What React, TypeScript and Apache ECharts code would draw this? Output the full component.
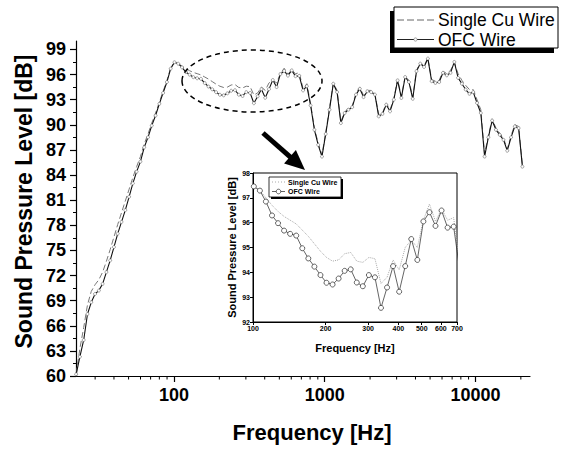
import React, { useEffect, useRef } from "react";
import * as echarts from "echarts";

// 1/12-octave analysis frequencies (Hz)
const freqHz = [
  22.45, 23.78, 25.2, 26.7, 28.28, 29.97, 31.75, 33.64, 35.64, 37.76,
  40.0, 42.38, 44.9, 47.57, 50.4, 53.39, 56.57, 59.93, 63.5, 67.27,
  71.27, 75.51, 80.0, 84.76, 89.8, 95.14, 100.8, 106.8, 113.1, 119.9,
  127.0, 134.5, 142.5, 151.0, 160.0, 169.5, 179.6, 190.3, 201.6, 213.6,
  226.3, 239.7, 254.0, 269.1, 285.1, 302.0, 320.0, 339.0, 359.2, 380.5,
  403.2, 427.1, 452.5, 479.5, 508.0, 538.2, 570.2, 604.1, 640.0, 678.0,
  718.4, 761.1, 806.3, 854.3, 905.1, 958.9, 1016, 1076, 1140, 1208,
  1280, 1356, 1437, 1522, 1613, 1709, 1810, 1918, 2032, 2153,
  2281, 2417, 2560, 2712, 2874, 3044, 3225, 3417, 3620, 3836,
  4064, 4305, 4561, 4833, 5120, 5424, 5747, 6089, 6451, 6834,
  7241, 7671, 8127, 8611, 9123, 9665, 10240, 10849, 11494, 12177,
  12902, 13669, 14482, 15343, 16255, 17222, 18246, 19331, 20480,
];

const singleCuDb = [
  60.3, 63.3, 65.8, 68.5, 70.1, 70.9, 71.5, 72.4, 73.7, 75.1,
  76.6, 78.1, 79.5, 80.9, 82.3, 83.7, 85.0, 86.2, 87.7, 88.9,
  90.2, 91.4, 92.7, 94.0, 95.3, 96.8, 97.46, 97.3, 97.0, 96.7,
  96.45, 96.25, 96.1, 95.95, 95.7, 95.45, 95.15, 94.85, 94.6, 94.45,
  94.5, 94.75, 94.8, 94.45, 94.4, 94.6, 94.55, 93.55, 93.8, 94.5,
  94.1, 95.0, 95.3, 95.0, 96.1, 96.75, 96.05, 96.55, 96.1, 96.2,
  94.3, 94.9, 92.5, 89.6, 87.8, 86.4, 89.1, 92.0, 95.0, 94.1,
  90.4, 91.5, 92.0, 92.2, 93.8, 94.5, 93.5, 94.1, 94.1, 93.7,
  91.2, 91.4, 92.6, 91.8, 93.1, 95.4, 93.4, 95.8, 95.3, 93.3,
  96.5, 97.4, 97.0, 98.0, 95.4, 95.2, 95.3, 96.4, 96.1, 96.5,
  97.4, 96.1, 95.3, 94.7, 94.2, 94.2, 93.0, 91.8, 86.5, 88.7,
  90.7, 89.6, 89.0, 88.4, 87.1, 88.7, 90.0, 89.8, 85.2,
];

const ofcDb = [
  60.2, 62.3, 64.3, 67.4, 68.8, 69.8, 70.2, 71.0, 72.4, 73.8,
  75.4, 77.0, 78.4, 79.8, 81.4, 83.0, 84.4, 85.6, 87.3, 88.5,
  89.9, 91.1, 92.5, 93.8, 95.1, 96.7, 97.46, 97.29, 96.85, 96.29,
  95.98, 95.68, 95.55, 95.48, 94.97, 94.56, 94.23, 93.89, 93.58, 93.51,
  93.75, 94.06, 94.12, 93.59, 93.44, 93.89, 93.8, 92.57, 93.39, 94.25,
  93.22, 94.25, 95.34, 94.5, 96.05, 96.42, 95.87, 96.49, 95.8, 95.84,
  94.1, 94.6, 92.3, 89.4, 87.6, 86.2, 88.9, 91.8, 94.9, 93.9,
  90.2, 91.4, 91.8, 92.1, 93.6, 94.3, 93.3, 94.0, 93.9, 93.6,
  91.0, 91.3, 92.4, 91.6, 93.0, 95.3, 93.2, 95.7, 95.1, 93.1,
  96.4, 97.3, 96.9, 97.9, 95.2, 95.0, 95.1, 96.2, 95.9, 96.2,
  97.5, 95.6, 94.9, 94.2, 93.7, 93.9, 92.6, 91.4, 86.2, 88.5,
  90.5, 89.4, 88.8, 88.2, 86.9, 88.5, 89.8, 89.6, 85.0,
];

const mainYTicks = [60, 63, 66, 69, 72, 75, 78, 81, 84, 87, 90, 93, 96, 99];
const mainXTicks = [100, 1000, 10000];
const mainXMinorTicks = [
  30, 40, 50, 60, 70, 80, 90, 200, 300, 400, 500, 600, 700, 800, 900,
  2000, 3000, 4000, 5000, 6000, 7000, 8000, 9000, 20000,
];
const insetXTicks = [100, 200, 300, 400, 500, 600, 700];
const insetFirst = 26; // index of 100.8 Hz
const insetLast = 60; // index of 718.4 Hz
const seriesNames = ["Single Cu Wire", "OFC Wire"];

const FONT = 'Arial, "Liberation Sans", Helvetica, sans-serif';

export default function App() {
  const ref = useRef<HTMLDivElement>(null);
  useEffect(() => {
    document.body.style.margin = "0";
    const chart = echarts.init(ref.current!, null, { renderer: "svg" });
    const pairs = (ys: number[]) => freqHz.map((f, i) => [f, ys[i]]);
    const insetPairs = (ys: number[]) =>
      freqHz.slice(insetFirst, insetLast + 1).map((f, i) => [f, ys[insetFirst + i]]);

    const option: any = {
      animation: false,
      backgroundColor: "#fff",
      textStyle: { fontFamily: FONT },
      grid: [
        { left: 76, right: 31, top: 41, bottom: 73 },
        {
          left: 253, top: 173, width: 204, height: 149, show: true,
          borderColor: "#000", borderWidth: 1, backgroundColor: "#fff", z: 5,
        },
      ],
      xAxis: [
        {
          type: "log", logBase: 10, gridIndex: 0, min: 22.4, max: 23000,
          name: "Frequency [Hz]", nameLocation: "middle", nameGap: 45,
          nameTextStyle: { fontSize: 22, fontWeight: "bold", color: "#000", fontFamily: FONT, padding: [0, 0, 0, 18] },
          axisLine: { lineStyle: { color: "#000", width: 1.2 } },
          axisTick: { customValues: mainXTicks, length: 6, lineStyle: { color: "#000", width: 1.2 } },
          axisLabel: {
            customValues: mainXTicks, margin: 10, fontSize: 18, fontWeight: "bold", color: "#000",
            fontFamily: FONT, formatter: (v: number) => String(Math.round(v)),
          },
          splitLine: { show: false },
        },
        {
          type: "log", logBase: 10, gridIndex: 1, min: 100, max: 700,
          name: "Frequency [Hz]", nameLocation: "middle", nameGap: 20,
          nameTextStyle: { fontSize: 11, fontWeight: "bold", color: "#000", fontFamily: FONT },
          axisLine: { lineStyle: { color: "#000", width: 1 } },
          axisTick: { customValues: insetXTicks, length: 3, lineStyle: { color: "#000" } },
          axisLabel: {
            customValues: insetXTicks, margin: 3, fontSize: 7, fontWeight: "bold", color: "#000",
            fontFamily: FONT, formatter: (v: number) => String(Math.round(v)),
          },
          splitLine: { show: false },
          z: 6,
        },
      ],
      yAxis: [
        {
          type: "value", gridIndex: 0, min: 60, max: 100, interval: 3,
          name: "Sound Pressure Level [dB]", nameLocation: "middle", nameGap: 38,
          nameTextStyle: { fontSize: 23, fontWeight: "bold", color: "#000", fontFamily: FONT, padding: [0, 0, 0, 14] },
          axisLine: { show: true, lineStyle: { color: "#000", width: 1.2 } },
          axisTick: { customValues: mainYTicks, length: 6, lineStyle: { color: "#000", width: 1.2 } },
          minorTick: { show: true, splitNumber: 2, length: 3, lineStyle: { color: "#000", width: 1 } },
          axisLabel: { customValues: mainYTicks, margin: 10, fontSize: 18, fontWeight: "bold", color: "#000", fontFamily: FONT },
          splitLine: { show: false },
        },
        {
          type: "value", gridIndex: 1, min: 92, max: 98, interval: 1,
          name: "Sound Pressure Level [dB]", nameLocation: "middle", nameGap: 16,
          nameTextStyle: { fontSize: 11, fontWeight: "bold", color: "#000", fontFamily: FONT },
          axisLine: { show: true, lineStyle: { color: "#000", width: 1 } },
          axisTick: { length: 3, lineStyle: { color: "#000" } },
          axisLabel: { margin: 3, fontSize: 7, fontWeight: "bold", color: "#000", fontFamily: FONT },
          splitLine: { show: false },
          z: 6,
        },
      ],
      series: [
        {
          name: seriesNames[0], type: "line", xAxisIndex: 0, yAxisIndex: 0,
          data: pairs(singleCuDb), symbol: "none",
          lineStyle: { color: "#777", width: 1, type: [6, 3] }, itemStyle: { color: "#777" }, z: 2,
        },
        {
          name: seriesNames[1], type: "line", xAxisIndex: 0, yAxisIndex: 0,
          data: pairs(ofcDb), symbol: "circle", symbolSize: 3, showAllSymbol: true,
          lineStyle: { color: "#111", width: 1.1 },
          itemStyle: { color: "#fff", borderColor: "#666", borderWidth: 0.6 }, z: 3,
        },
        {
          name: seriesNames[0], type: "line", xAxisIndex: 1, yAxisIndex: 1,
          data: insetPairs(singleCuDb), symbol: "none", clip: true,
          lineStyle: { color: "#aaa", width: 1, type: "dotted" }, z: 7,
        },
        {
          name: seriesNames[1], type: "line", xAxisIndex: 1, yAxisIndex: 1,
          data: insetPairs(ofcDb), symbol: "circle", symbolSize: 5, showAllSymbol: true, clip: true,
          lineStyle: { color: "#222", width: 0.7 },
          itemStyle: { color: "#fff", borderColor: "#222", borderWidth: 0.7 }, z: 8,
        },
        {
          type: "custom", xAxisIndex: 0, yAxisIndex: 0, silent: true, clip: false, z: 4,
          data: mainXMinorTicks.map((f) => [f, 60]),
          renderItem: (_p: any, api: any) => {
            const pt = api.coord([api.value(0), api.value(1)]);
            return {
              type: "line",
              shape: { x1: pt[0], y1: pt[1], x2: pt[0], y2: pt[1] + 3.5 },
              style: { stroke: "#000", lineWidth: 1 },
            };
          },
        },
      ],
      graphic: [
        // main legend box with shadow
        { type: "rect", z: 10, shape: { x: 390, y: 11, width: 164, height: 42 }, style: { fill: "#000" } },
        { type: "rect", z: 11, shape: { x: 394, y: 7, width: 164, height: 41 }, style: { fill: "#fff", stroke: "#000", lineWidth: 1 } },
        { type: "line", z: 12, shape: { x1: 397, y1: 20, x2: 434, y2: 20 }, style: { stroke: "#666", lineWidth: 1, lineDash: [7, 3] } },
        { type: "text", z: 12, style: { x: 438, y: 20, text: seriesNames[0], fontSize: 17.5, fontFamily: FONT, fill: "#000", verticalAlign: "middle" } },
        { type: "line", z: 12, shape: { x1: 397, y1: 39.5, x2: 434, y2: 39.5 }, style: { stroke: "#222", lineWidth: 1 } },
        { type: "circle", z: 13, shape: { cx: 415.5, cy: 39.5, r: 1.6 }, style: { fill: "#fff", stroke: "#666", lineWidth: 0.6 } },
        { type: "text", z: 12, style: { x: 438, y: 39.5, text: seriesNames[1], fontSize: 17.5, fontFamily: FONT, fill: "#000", verticalAlign: "middle" } },
        // dashed ellipse
        {
          type: "ellipse", z: 12, shape: { cx: 252, cy: 81, rx: 70, ry: 31 },
          style: { fill: "none", stroke: "#000", lineWidth: 1.5, lineDash: [5, 4] },
        },
        // arrow
        { type: "line", z: 12, shape: { x1: 263, y1: 133, x2: 291, y2: 157.7 }, style: { stroke: "#000", lineWidth: 5 } },
        { type: "polygon", z: 12, shape: { points: [[284.1, 163.5], [295.9, 150.0], [305, 170]] }, style: { fill: "#000" } },
        // inset legend
        { type: "rect", z: 20, shape: { x: 271, y: 179, width: 72, height: 20 }, style: { fill: "#000" } },
        { type: "rect", z: 21, shape: { x: 269, y: 177, width: 72, height: 20 }, style: { fill: "#fff", stroke: "#000", lineWidth: 0.8 } },
        { type: "line", z: 22, shape: { x1: 272, y1: 182, x2: 285, y2: 182 }, style: { stroke: "#aaa", lineWidth: 1, lineDash: [1, 2] } },
        { type: "text", z: 22, style: { x: 288, y: 182, text: seriesNames[0], fontSize: 7, fontWeight: "bold", fontFamily: FONT, fill: "#000", verticalAlign: "middle" } },
        { type: "line", z: 22, shape: { x1: 272, y1: 191.5, x2: 285, y2: 191.5 }, style: { stroke: "#222", lineWidth: 0.7 } },
        { type: "circle", z: 23, shape: { cx: 278.5, cy: 191.5, r: 2.3 }, style: { fill: "#fff", stroke: "#222", lineWidth: 0.7 } },
        { type: "text", z: 22, style: { x: 288, y: 191.5, text: seriesNames[1], fontSize: 7, fontWeight: "bold", fontFamily: FONT, fill: "#000", verticalAlign: "middle" } },
      ],
    };
    chart.setOption(option);
    return () => chart.dispose();
  }, []);
  return <div ref={ref} style={{ width: 561, height: 449 }} />;
}
